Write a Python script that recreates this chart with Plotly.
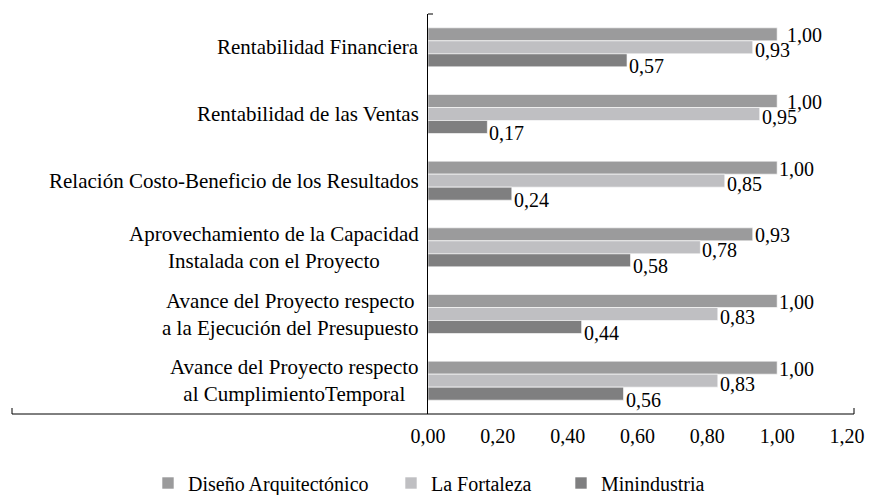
import plotly.graph_objects as go

categories = [
    "Rentabilidad Financiera",
    "Rentabilidad de las Ventas",
    "Relación Costo-Beneficio de los Resultados",
    "Aprovechamiento de la Capacidad<br>Instalada con el Proyecto",
    "Avance del Proyecto respecto<br>a la Ejecución del Presupuesto",
    "Avance del Proyecto respecto<br>al CumplimientoTemporal",
]
series_names = ["Diseño Arquitectónico", "La Fortaleza", "Minindustria"]
diseno = [1.00, 1.00, 1.00, 0.93, 1.00, 1.00]
fortaleza = [0.93, 0.95, 0.85, 0.78, 0.83, 0.83]
minindustria = [0.57, 0.17, 0.24, 0.58, 0.44, 0.56]
tick_vals = [0, 0.2, 0.4, 0.6, 0.8, 1.0, 1.2]
tick_text = ["0,00", "0,20", "0,40", "0,60", "0,80", "1,00", "1,20"]

colors = ["#9b9b9c", "#bfbfc2", "#7f7f80"]
series_values = [diseno, fortaleza, minindustria]
label_shift = [12, -3, -19]
legend_ids = ["legend", "legend2", "legend3"]
legend_px = [148, 391, 561]

FONT = "Liberation Serif, Times New Roman, serif"

L, R, T, B = 428, 25, 14, 81
pw = 872 - L - R
ph = 495 - T - B

fig = go.Figure()
for name, vals, col, lid in zip(series_names, series_values, colors, legend_ids):
    fig.add_trace(go.Bar(
        y=categories, x=vals, name=name, orientation="h", legend=lid,
        marker=dict(color=col, line=dict(color="white", width=0.6)),
    ))

annotations = []
for si, (vals, shift) in enumerate(zip(series_values, label_shift)):
    for ci, (cat, v) in enumerate(zip(categories, vals)):
        xs = 0
        # nudge a label right when the next series' label would collide with it
        if si == 0 and fortaleza[ci] > 0.9 * v:
            xs = 8
        annotations.append(dict(
            x=v, y=cat, xref="x", yref="y", text=f"{v:.2f}".replace(".", ","),
            showarrow=False, xanchor="left", yanchor="middle", yshift=shift, xshift=xs,
            font=dict(family=FONT, size=20, color="#000000"),
        ))
for cat in categories:
    annotations.append(dict(
        x=0, y=cat, xref="paper", yref="y", text=cat, showarrow=False,
        xanchor="right", yanchor="middle", align="center", xshift=-7,
        font=dict(family=FONT, size=21, color="#000000"),
    ))

shapes = [
    dict(type="line", xref="paper", yref="paper", x0=(12 - L) / pw, x1=(854 - L) / pw, y0=0, y1=0,
         line=dict(color="#000000", width=1)),
    dict(type="line", xref="paper", yref="paper", x0=(12 - L) / pw, x1=(12 - L) / pw, y0=0, y1=6 / ph,
         line=dict(color="#000000", width=1)),
    dict(type="line", xref="paper", yref="paper", x0=(854 - L) / pw, x1=(854 - L) / pw, y0=0, y1=6 / ph,
         line=dict(color="#000000", width=1)),
    dict(type="line", xref="paper", yref="paper", x0=0, x1=5 / pw, y0=1, y1=1,
         line=dict(color="#000000", width=1)),
]

legend_common = dict(orientation="h", xanchor="left", y=(414 - 483) / ph, yanchor="middle",
                     font=dict(family=FONT, size=20, color="#000000"), bgcolor="rgba(0,0,0,0)")
legends = {}
for lid, px in zip(legend_ids, legend_px):
    legends[lid] = dict(legend_common, x=(px - L) / pw)

fig.update_layout(
    width=872, height=495,
    margin=dict(l=L, r=R, t=T, b=B, autoexpand=False),
    paper_bgcolor="white", plot_bgcolor="white",
    barmode="group", bargap=0.415, bargroupgap=0,
    font=dict(family=FONT, size=20, color="#000000"),
    showlegend=True,
    annotations=annotations,
    shapes=shapes,
    xaxis=dict(range=[0, 1.2], tickvals=tick_vals, ticktext=tick_text, showgrid=False, zeroline=False,
               showline=False, ticks="", ticklabelstandoff=8, tickfont=dict(family=FONT, size=20)),
    yaxis=dict(autorange="reversed", showticklabels=False, showgrid=False, zeroline=False,
               showline=True, linecolor="#000000", linewidth=1, ticks=""),
    **legends,
)

fig.write_html("out.html", config={"displayModeBar": False},
               post_script="document.body.style.margin='0px';")
